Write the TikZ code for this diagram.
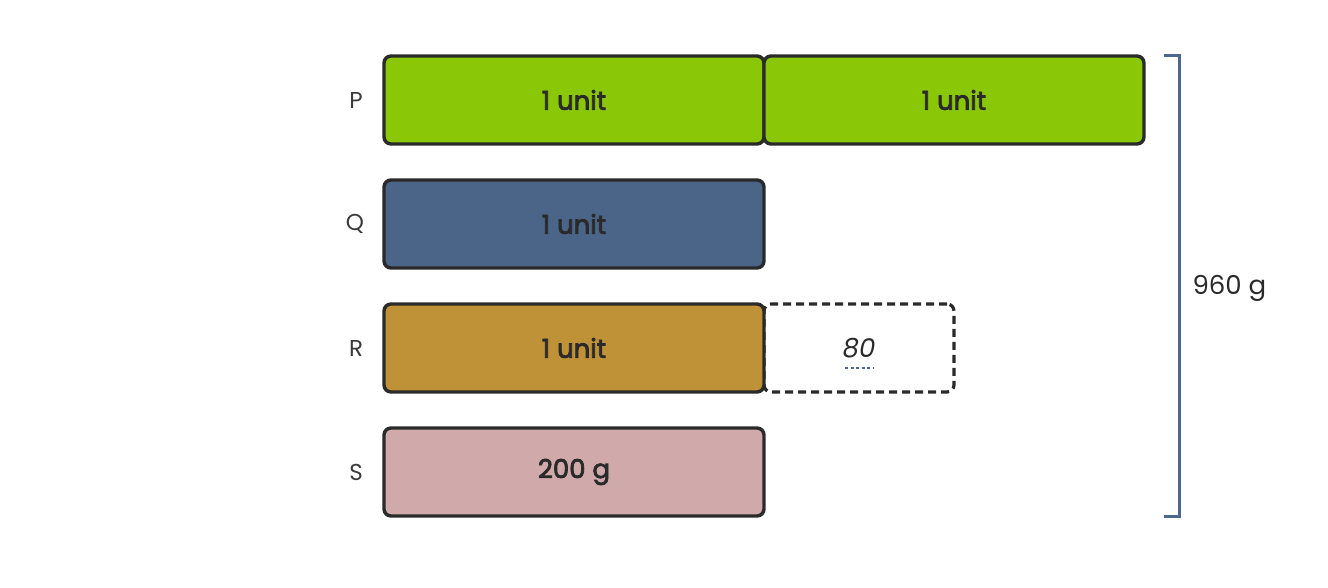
\documentclass[tikz,border=0pt]{standalone}
\usepackage{fontspec}
\setmainfont{Poppins}
\newfontfamily\semib{Poppins}[FakeBold=3]
\definecolor{ink}{HTML}{2A2A2A}
\definecolor{lbl}{HTML}{3A3A3A}
\definecolor{pgreen}{HTML}{8AC807}
\definecolor{qblue}{HTML}{4A6587}
\definecolor{rgold}{HTML}{BF9238}
\definecolor{spink}{HTML}{D0AAAA}
\definecolor{brk}{HTML}{4D6890}
\begin{document}
\begin{tikzpicture}[x=1pt,y=-1pt,
  bar/.style={draw=ink, line width=3.4pt, outer sep=0pt, rounded corners=7pt, minimum width=380pt, minimum height=88pt, inner sep=0pt, anchor=north west, font=\fontsize{26}{30}\semib, text=ink},
  dashbox/.style={draw=ink, line width=3.2pt, outer sep=0pt, dash pattern=on 8pt off 5pt, rounded corners=7pt, minimum width=190pt, minimum height=88pt, inner sep=0pt, anchor=north west, font=\fontsize{26}{30}\selectfont\itshape, text=ink},
  rowlbl/.style={font=\fontsize{23}{27}\selectfont, text=lbl},
  bracket/.style={draw=brk, line width=3pt},
  totallbl/.style={font=\fontsize{26}{30}\selectfont, text=ink, anchor=west}]
\useasboundingbox (0,0) rectangle (1328,588);
\node[bar, fill=pgreen] (p1) at (384,56) {1 unit};
\node[bar, fill=pgreen] (p2) at (764,56) {1 unit};
\node[bar, fill=qblue] (q) at (384,180) {1 unit};
\node[dashbox] (r2) at (764,304) {80};
\node[bar, fill=rgold] (r) at (384,304) {1 unit};
\node[bar, fill=spink] (s) at (384,428) {200 g};
\node[rowlbl] (lp) at (356,100) {P};
\node[rowlbl] (lq) at (355,224) {Q};
\node[rowlbl] (lr) at (356,348) {R};
\node[rowlbl] (ls) at (356,472) {S};
\draw[brk, line width=2.5pt, dash pattern=on 3pt off 2.5pt] ([xshift=-14pt, yshift=-20pt]r2.center) -- ([xshift=14pt, yshift=-20pt]r2.center);
\coordinate (bt) at (1179,56);
\coordinate (bb) at (1179,516);
\draw[bracket] ([xshift=-15pt]bt) -- (bt) -- (bb) -- ([xshift=-15pt]bb);
\node[totallbl] (tot) at (1189,288) {960 g};
\end{tikzpicture}
\end{document}
